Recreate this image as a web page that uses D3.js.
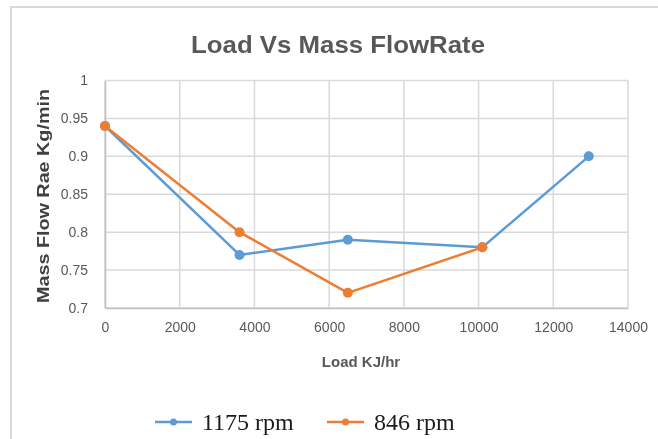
<!DOCTYPE html>
<html>
<head>
<meta charset="utf-8">
<script src="https://cdn.jsdelivr.net/npm/d3@7"></script>
<style>
  html, body { margin: 0; padding: 0; background: #fff; }
  svg { display: block; }
</style>
</head>
<body>
<svg id="chart" width="658" height="439"></svg>
<script>
// Series data: load (KJ/hr) vs mass flow rate (Kg/min)
const seriesNames = ["1175 rpm", "846 rpm"];
const seriesColors = ["#5b9bd5", "#ed7d31"];
const load1175 = [0, 3600, 6500, 10100, 12950];
const flow1175 = [0.94, 0.77, 0.79, 0.78, 0.90];
const load846 = [0, 3600, 6500, 10100];
const flow846 = [0.94, 0.80, 0.72, 0.78];
const xTicks = [0, 2000, 4000, 6000, 8000, 10000, 12000, 14000];
const yTicks = [0.7, 0.75, 0.8, 0.85, 0.9, 0.95, 1];

const series = [
  { name: seriesNames[0], color: seriesColors[0], pts: load1175.map((x, i) => [x, flow1175[i]]) },
  { name: seriesNames[1], color: seriesColors[1], pts: load846.map((x, i) => [x, flow846[i]]) }
];

const svg = d3.select("#chart");
const defs = svg.append("defs");
defs.append("filter").attr("id", "soft")
  .append("feGaussianBlur").attr("stdDeviation", 0.55);

const root = svg.append("g").attr("filter", "url(#soft)");

// chart frame
root.append("rect")
  .attr("x", 11).attr("y", 7).attr("width", 660).attr("height", 450)
  .attr("fill", "#fff").attr("stroke", "#d9d9d9").attr("stroke-width", 2);

const plot = { left: 105, right: 628, top: 80.5, bottom: 308 };

const x = d3.scaleLinear().domain([0, 14000]).range([plot.left, plot.right]);
const y = d3.scaleLinear().domain([0.7, 1]).range([plot.bottom, plot.top]);

// gridlines
const grid = root.append("g");
grid.selectAll("line.h").data(yTicks).join("line")
  .attr("x1", plot.left).attr("x2", plot.right)
  .attr("y1", d => y(d)).attr("y2", d => y(d))
  .attr("stroke", "#d9d9d9").attr("stroke-width", 1.5);
grid.selectAll("line.v").data(xTicks).join("line")
  .attr("y1", plot.top).attr("y2", plot.bottom)
  .attr("x1", d => x(d)).attr("x2", d => x(d))
  .attr("stroke", "#d9d9d9").attr("stroke-width", 1.5);

// axes
const xAxis = root.append("g")
  .attr("transform", `translate(0,${plot.bottom})`)
  .call(d3.axisBottom(x).tickValues(xTicks).tickSize(0).tickPadding(14).tickFormat(d3.format("d")));
xAxis.select(".domain").attr("stroke", "#bfbfbf").attr("stroke-width", 1.5);

const yAxis = root.append("g")
  .attr("transform", `translate(${plot.left},0)`)
  .call(d3.axisLeft(y).tickValues(yTicks).tickSize(0).tickPadding(17).tickFormat(d => String(d)));
yAxis.select(".domain").attr("stroke", "#bfbfbf").attr("stroke-width", 1.5);

root.selectAll(".tick text")
  .attr("fill", "#595959")
  .style("font-family", "'Liberation Sans Narrow', 'Liberation Sans', Arial, sans-serif")
  .style("font-size", "14px");

// series lines and markers
const line = d3.line().x(d => x(d[0])).y(d => y(d[1]));
series.forEach(s => {
  root.append("path").datum(s.pts)
    .attr("d", line).attr("fill", "none")
    .attr("stroke", s.color).attr("stroke-width", 2.5)
    .attr("stroke-linejoin", "round");
  root.selectAll(null).data(s.pts).join("circle")
    .attr("cx", d => x(d[0])).attr("cy", d => y(d[1]))
    .attr("r", 5).attr("fill", s.color);
});

// title
root.append("text")
  .attr("x", 338).attr("y", 53)
  .attr("text-anchor", "middle")
  .attr("textLength", 294).attr("lengthAdjust", "spacingAndGlyphs")
  .attr("fill", "#595959")
  .style("font-family", "'Liberation Sans', Arial, sans-serif")
  .style("font-weight", "bold").style("font-size", "24px")
  .text("Load Vs Mass FlowRate");

// axis titles
root.append("text")
  .attr("transform", "translate(49,196) rotate(-90)")
  .attr("text-anchor", "middle")
  .attr("textLength", 214).attr("lengthAdjust", "spacingAndGlyphs")
  .attr("fill", "#404040")
  .style("font-family", "'Liberation Sans', Arial, sans-serif")
  .style("font-weight", "bold").style("font-size", "16px")
  .text("Mass Flow Rae Kg/min");

root.append("text")
  .attr("x", 361).attr("y", 367)
  .attr("text-anchor", "middle")
  .attr("fill", "#595959")
  .style("font-family", "'Liberation Sans', Arial, sans-serif")
  .style("font-weight", "bold").style("font-size", "15px")
  .text("Load KJ/hr");

// legend
const legendX = [155, 327];
const legend = root.append("g");
series.forEach((s, i) => {
  const g = legend.append("g").attr("transform", `translate(${legendX[i]},422)`);
  g.append("line").attr("x1", 0).attr("x2", 37).attr("y1", 0).attr("y2", 0)
    .attr("stroke", s.color).attr("stroke-width", 2.5);
  g.append("circle").attr("cx", 18.5).attr("cy", 0).attr("r", 3.5).attr("fill", s.color);
  g.append("text").attr("x", 47).attr("y", 8)
    .attr("fill", "#1a1a1a")
    .style("font-family", "'Liberation Serif', 'Times New Roman', serif")
    .style("font-size", "24px")
    .text(s.name);
});
</script>
</body>
</html>
